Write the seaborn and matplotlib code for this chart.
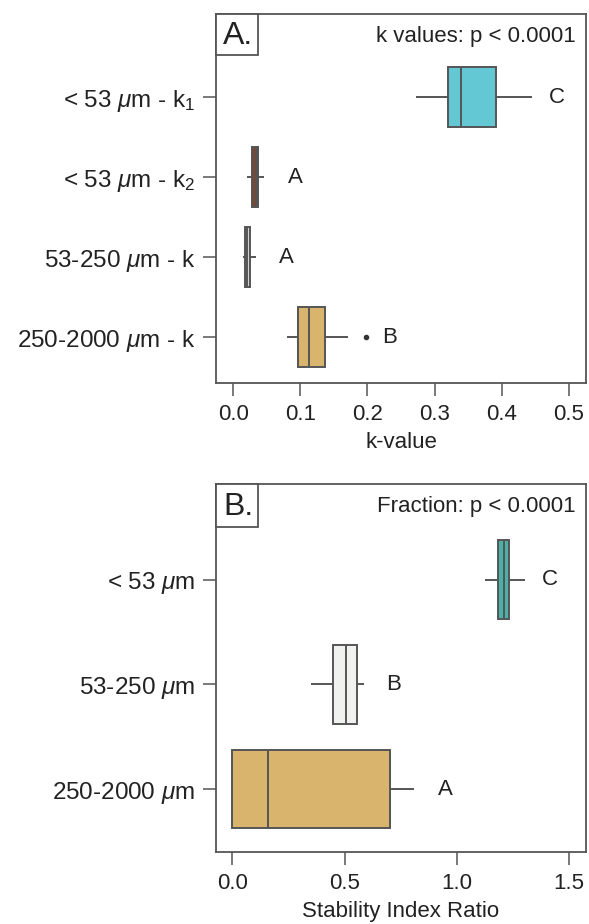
import numpy as np
import pandas as pd
import matplotlib
matplotlib.use("Agg")
import matplotlib.pyplot as plt
import seaborn as sns
from matplotlib.patches import Rectangle

sns.set_theme(style="white")
plt.rcParams['font.family'] = ['Liberation Sans', 'DejaVu Sans']
plt.rcParams['mathtext.fontset'] = 'custom'
plt.rcParams['mathtext.rm'] = 'Liberation Sans'
plt.rcParams['mathtext.it'] = 'Liberation Sans:italic'
plt.rcParams['mathtext.bf'] = 'Liberation Sans:bold'

# ---------------- Data ----------------
# Panel A: k values, observations per group (min, Q1, median, Q3, max [+ outlier])
groups_a = [r"< 53 $\mu$m - k$_1$", r"< 53 $\mu$m - k$_2$",
            r"53-250 $\mu$m - k", r"250-2000 $\mu$m - k"]
k1_lt53 = [0.273, 0.320, 0.340, 0.391, 0.445]
k2_lt53 = [0.021, 0.027, 0.033, 0.037, 0.046]
k_53_250 = [0.014, 0.017, 0.021, 0.025, 0.033]
k_250_2000 = [0.080, 0.090, 0.096, 0.105, 0.113, 0.125, 0.136, 0.171, 0.198]
letters_a = ["C", "A", "A", "B"]
letter_x_a = [0.471, 0.081, 0.068, 0.222]
colors_a = ["#64C8D4", "#86452A", "#D2D3D2", "#D8B46C"]

# Panel B: stability index ratio
groups_b = [r"< 53 $\mu$m", r"53-250 $\mu$m", r"250-2000 $\mu$m"]
sir_lt53 = [1.123, 1.183, 1.210, 1.233, 1.304]
sir_53_250 = [0.349, 0.447, 0.506, 0.557, 0.587]
sir_250_2000 = [0.000, 0.000, 0.158, 0.704, 0.811]
letters_b = ["C", "B", "A"]
letter_x_b = [1.379, 0.685, 0.915]
colors_b = ["#4BB0A8", "#F0F2F0", "#D8B46C"]

xticks_a = [0.0, 0.1, 0.2, 0.3, 0.4, 0.5]
xticks_b = [0.0, 0.5, 1.0, 1.5]

# ---------------- Build tables ----------------
df_a = pd.DataFrame({
    "group": ([groups_a[0]] * len(k1_lt53) + [groups_a[1]] * len(k2_lt53)
              + [groups_a[2]] * len(k_53_250) + [groups_a[3]] * len(k_250_2000)),
    "value": k1_lt53 + k2_lt53 + k_53_250 + k_250_2000,
})
df_b = pd.DataFrame({
    "group": ([groups_b[0]] * len(sir_lt53) + [groups_b[1]] * len(sir_53_250)
              + [groups_b[2]] * len(sir_250_2000)),
    "value": sir_lt53 + sir_53_250 + sir_250_2000,
})

EDGE = "#555555"
TXT = "#222222"
FS = 16

fig = plt.figure(figsize=(5.89, 9.24), dpi=100)
ax_a = fig.add_axes([0.3667, 0.5855, 0.6282, 0.3994])
ax_b = fig.add_axes([0.3667, 0.0779, 0.6282, 0.3983])


def draw(ax, df, order, colors, letters, letter_x, xticks, xlim, ylim,
         xlabel, title, tag, tagh):
    sns.boxplot(data=df, x="value", y="group", hue="group", order=order,
                hue_order=order, palette=colors, legend=False, orient="h",
                width=0.75, saturation=1, linecolor=EDGE, linewidth=1.4,
                fliersize=3, showcaps=False,
                flierprops=dict(marker="o", markerfacecolor="#333333",
                                markeredgecolor="#333333"),
                ax=ax)
    ax.set_xlim(*xlim)
    ax.set_ylim(*ylim)
    ax.set_xticks(xticks)
    ax.set_xticklabels([f"{t:.1f}" for t in xticks])
    ax.set_ylabel("")
    ax.set_xlabel(xlabel, fontsize=FS, color=TXT, labelpad=5)
    ax.tick_params(axis="both", direction="out", length=9.5, width=1.1,
                   color=EDGE, labelsize=FS, labelcolor=TXT, pad=5.5,
                   bottom=True, left=True)
    ax.tick_params(axis="y", labelsize=17.5)
    for s in ax.spines.values():
        s.set_color(EDGE)
        s.set_linewidth(1.3)
        s.set_visible(True)
    for i, (lt, lx) in enumerate(zip(letters, letter_x)):
        ax.text(lx, i, lt, fontsize=FS, color=TXT, ha="left", va="center")
    ax.text(0.973, 0.94, title, transform=ax.transAxes, ha="right",
            va="center", fontsize=FS, color=TXT)
    ax.add_patch(Rectangle((0, 1 - tagh), 0.1135, tagh, transform=ax.transAxes,
                           facecolor="white", edgecolor=EDGE, linewidth=1.3,
                           zorder=5, clip_on=False))
    ax.text(0.1135 / 2 + 0.004, 1 - tagh / 2 - 0.004, tag,
            transform=ax.transAxes, ha="center", va="center", fontsize=23,
            color=TXT, zorder=6)


draw(ax_a, df_a, groups_a, colors_a, letters_a, letter_x_a, xticks_a,
     (-0.026, 0.526), (3.575, -1.04), "k-value", "k values: p < 0.0001",
     "A.", 0.111)
draw(ax_b, df_b, groups_b, colors_b, letters_b, letter_x_b, xticks_b,
     (-0.073, 1.575), (2.6, -0.914), "Stability Index Ratio",
     "Fraction: p < 0.0001", "B.", 0.116)

fig.savefig("out.png", dpi=100, facecolor="white")
